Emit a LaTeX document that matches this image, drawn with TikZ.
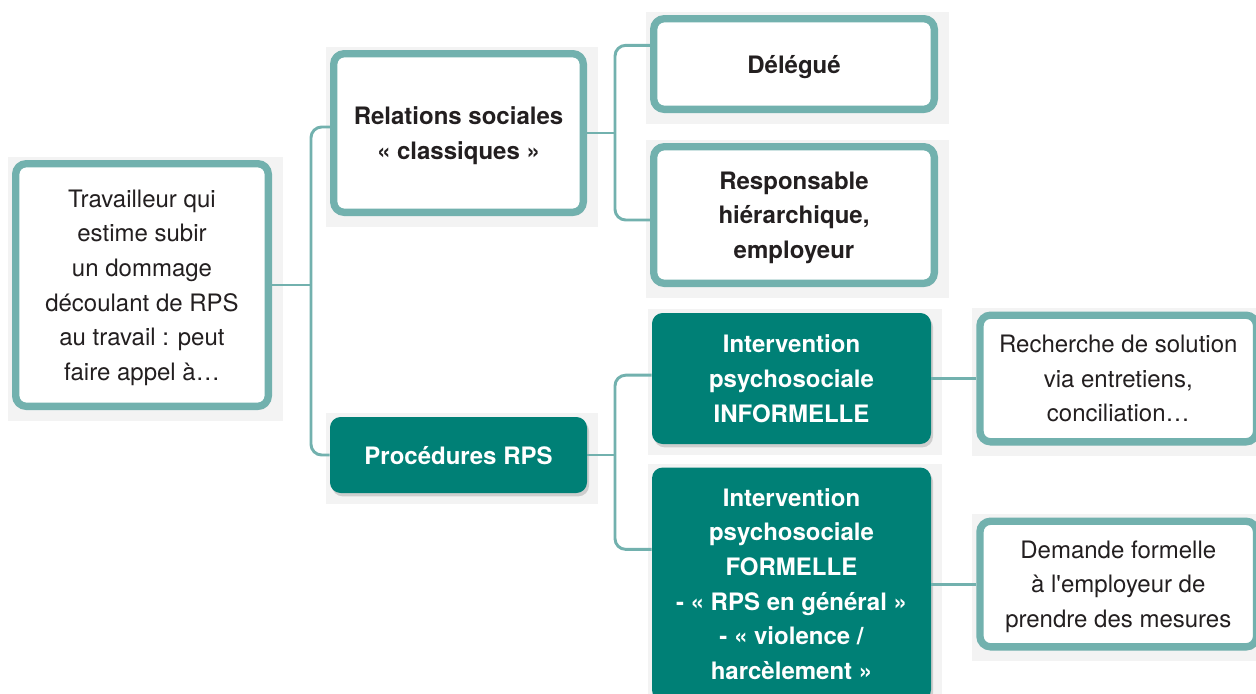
\documentclass[tikz,border=0pt]{standalone}
\usepackage{fontspec}
\setmainfont{TeX Gyre Heros}
\usetikzlibrary{positioning, calc, backgrounds, shadows}
\definecolor{TealLine}{RGB}{114,177,174}
\definecolor{TealDark}{RGB}{0,128,118}
\definecolor{InkGray}{RGB}{35,31,32}
\definecolor{PaperGray}{RGB}{243,243,243}

\begin{document}
\begin{tikzpicture}[x=0.75pt, y=-0.75pt,
                    node distance=22.5pt,
                    box/.style={rectangle, rounded corners=8pt, inner sep=0pt, align=center, text depth=-2pt, font=\fontsize{18}{26}\selectfont, drop shadow={shadow xshift=1.5pt, shadow yshift=-2.5pt, fill=black, opacity=0.15}},
                    lightbox/.style={box, draw=TealLine, line width=5.5pt, fill=white, text=InkGray},
                    strong/.style={font=\fontsize{18}{26}\selectfont\bfseries},
                    darkbox/.style={box, fill=TealDark, text=white, strong},
                    link/.style={draw=TealLine, line width=2.2pt, rounded corners=8pt},
                    backdrop/.style={fill=PaperGray}
                ]
                    \useasboundingbox (0,0) rectangle (1256,693);

                    \node[lightbox, minimum width=189.5pt, minimum height=182pt] (root) at (142,285) {Travailleur qui\\estime subir\\un dommage\\découlant de RPS\\au travail : peut\\faire appel à…};
                    \node[lightbox, strong, minimum width=187.25pt, minimum height=119pt] (rel) at (458.5,133) {Relations sociales\\«~classiques~»};
                    \node[darkbox, minimum width=192.75pt, minimum height=57pt] (proc) at (458.5,455) {Procédures RPS};
                    \node[lightbox, strong, minimum width=210.5pt, minimum height=68pt] (dele) at (794,64) {Délégué};
                    \node[lightbox, strong, minimum width=210.5pt, minimum height=102.5pt, below=of dele] (resp) {Responsable\\hiérarchique,\\employeur};
                    \node[darkbox, minimum width=209.25pt, minimum height=98.25pt] (inf) at (791.5,378.5) {Intervention\\psychosociale\\INFORMELLE};
                    \node[darkbox, minimum width=209.25pt, minimum height=174.75pt, below=17.25pt of inf] (form) {Intervention\\psychosociale\\FORMELLE\\-~«~RPS en général~»\\-~«~violence /\\harcèlement~»};
                    \node[lightbox, minimum width=207.5pt, minimum height=95pt, right=33.75pt of inf] (rech) {Recherche de solution\\via entretiens,\\conciliation…};
                    \node[lightbox, minimum width=207.5pt, minimum height=94.25pt, right=33.75pt of form] (dem) {Demande formelle\\à l\textquotesingle employeur de\\prendre des mesures};

                    \begin{scope}[on background layer]
                        \foreach \n in {root, rel, proc, dele, resp, inf, form, rech, dem}
                            \fill[backdrop] ([shift={(-3pt,2.5pt)}]\n.north west) rectangle ([shift={(8pt,-8pt)}]\n.south east);
                    \end{scope}

                    \coordinate (j1) at (311,285);
                    \coordinate (j2) at (615,133);
                    \coordinate (j3) at (615,455);

                    \draw[link] (root.east) -- (j1);
                    \draw[link] ([yshift=4.5pt]rel.west) -| (j1) |- (proc.west);
                    \draw[link] (rel.east) -- (j2);
                    \draw[link] ([yshift=14pt]dele.west) -| (j2) |- ([yshift=-3.75pt]resp.west);
                    \draw[link] (proc.east) -- (j3);
                    \draw[link] ([yshift=2.5pt]inf.west) -| (j3) |- ([yshift=26pt]form.west);
                    \draw[link] (inf.east) -- (rech.west);
                    \draw[link] (form.east |- dem.west) -- (dem.west);
                \end{tikzpicture}
\end{document}
